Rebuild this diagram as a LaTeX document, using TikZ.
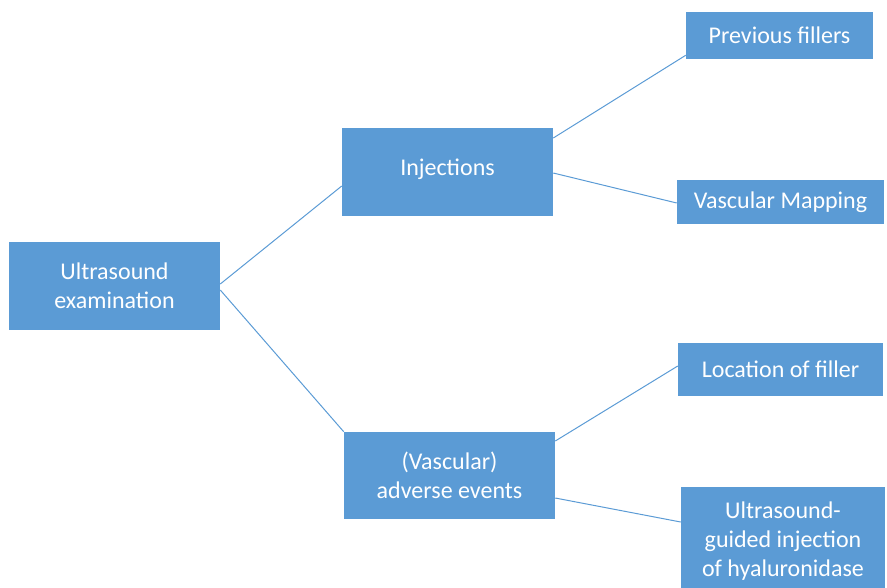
\documentclass[tikz,border=0pt]{standalone}
\usepackage{fontspec}
\setmainfont{Carlito}
\usetikzlibrary{calc}
\definecolor{boxblue}{HTML}{5B9BD5}

\tikzset{
    box/.style={fill=boxblue,text=white,inner sep=0pt,align=center,
        font=\fontsize{18}{21.5}\selectfont},
    link/.style={draw=boxblue,line width=0.75pt}
}

\begin{document}
\begin{tikzpicture}[x=0.75pt,y=-0.75pt]
        \clip (0,0) rectangle (887,587);
        \node[box,minimum width=158.25pt,minimum height=66pt] (us) at (114.5,286) {Ultrasound\\examination};
        \node[box,minimum width=158.25pt,minimum height=66pt] (inj) at (447.5,172) {\raisebox{7.5pt}{Injections}};
        \node[box,minimum width=158.25pt,minimum height=65.25pt] (adv) at (449.5,475.5) {(Vascular)\\adverse events};
        \node[box,minimum width=140.25pt,minimum height=35.25pt] (prev) at (779.5,35.5) {Previous fillers};
        \node[box,minimum width=155.25pt,minimum height=33pt] (map) at (780.5,202) {Vascular Mapping};
        \node[box,minimum width=153.75pt,minimum height=39.75pt] (loc) at (780.5,369.5) {Location of filler};
        \node[box,minimum width=153pt,minimum height=81pt] (hyal) at (783,541) {Ultrasound-\\guided injection\\of hyaluronidase};
        \draw[link] ($(us.east)+(0,-2)$) -- ($(inj.west)+(0,14)$);
        \draw[link] ($(us.east)+(0,4)$) -- (adv.north west);
        \draw[link] ($(inj.east)+(0,-34)$) -- ($(prev.south west)+(0,-4)$);
        \draw[link] ($(inj.east)+(0,1)$) -- ($(map.west)+(0,1)$);
        \draw[link] ($(adv.east)+(0,-34.5)$) -- ($(loc.west)+(0,-3.5)$);
        \draw[link] ($(adv.east)+(0,22.5)$) -- ($(hyal.west)+(0,-19)$);
\end{tikzpicture}
\end{document}
